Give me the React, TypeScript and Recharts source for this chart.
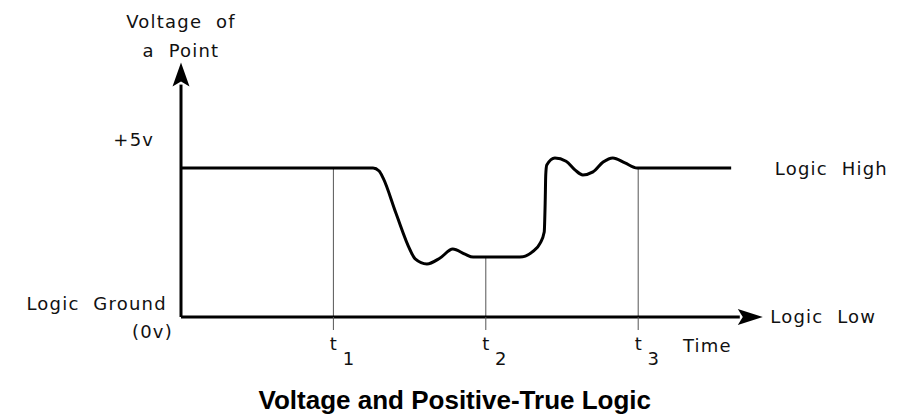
import { LineChart, Line, XAxis, YAxis, ReferenceLine, ReferenceDot } from "recharts";

// waveform: time units (t1 = 3, t2 = 6, t3 = 9), volts
const TIME = [
  0, 3.78, 3.9, 3.98, 4.23, 4.51, 4.61, 4.84, 5.1, 5.35, 5.59, 5.75,
  6.67, 6.91, 7.07, 7.15, 7.17, 7.18, 7.2, 7.36, 7.58, 7.76, 7.91, 8.11,
  8.31, 8.5, 8.74, 8.98, 10.83,
];
const VOLTS = [
  5, 5, 4.9, 4.66, 3.49, 2.25, 1.95, 1.78, 1.98, 2.28, 2.11, 2.01,
  2.01, 2.18, 2.48, 2.85, 3.93, 4.77, 5.1, 5.34, 5.23, 4.93, 4.77, 4.87,
  5.2, 5.34, 5.17, 5.0, 5,
];
const TICKS = [3, 6, 9];
const TICK_SUBS = ["1", "2", "3"];
const MARKER_TOPS = [5, 2.01, 5];

const data = TIME.map((t, i) => ({ t, v: VOLTS[i] }));

const PLOT_FONT = "'DejaVu Sans', sans-serif";

const NOTES = [
  { text: "Voltage  of", t: 0, v: 9.7, anchor: "middle" },
  { text: "a  Point", t: 0, v: 8.72, anchor: "middle" },
  { text: "+5v", t: -0.93, v: 5.74, anchor: "middle" },
  { text: "Logic  Ground", t: -0.28, v: 0.23, anchor: "end" },
  { text: "(0v)", t: -0.16, v: -0.7, anchor: "end" },
  { text: "Time", t: 9.88, v: -1.17, anchor: "start" },
  { text: "Logic  Low", t: 11.6, v: -0.2, anchor: "start" },
  { text: "Logic  High", t: 11.69, v: 4.77, anchor: "start" },
];

function TimeTick({ x, y, index }: any) {
  return (
    <g fontFamily={PLOT_FONT} fontSize={18} fill="#111">
      <text x={x} y={y + 20} textAnchor="middle">t</text>
      <text x={x + 15} y={y + 35} textAnchor="middle">{TICK_SUBS[index]}</text>
    </g>
  );
}

export default function App() {
  return (
    <div style={{ position: "absolute", left: 0, top: 0, background: "#fff" }}>
      <LineChart
        width={902}
        height={415}
        data={data}
        margin={{ top: 84.6, right: 162.2, bottom: 58, left: 141 }}
      >
        <defs>
          <marker id="arrowX" markerUnits="userSpaceOnUse" markerWidth={25} markerHeight={16}
            refX={2} refY={8} orient="auto" overflow="visible">
            <path d="M0,0 L25,8 L0,16 L5,8 Z" fill="#000" />
          </marker>
          <marker id="arrowY" markerUnits="userSpaceOnUse" markerWidth={24} markerHeight={17}
            refX={2} refY={8.5} orient="auto-start-reverse" overflow="visible">
            <path d="M0,0 L24,8.5 L0,17 L5,8.5 Z" fill="#000" />
          </marker>
        </defs>
        <XAxis
          type="number"
          dataKey="t"
          domain={[0, 11]}
          ticks={TICKS}
          height={40}
          tickSize={13}
          tickMargin={0}
          tickLine={{ stroke: "#555", strokeWidth: 1 }}
          axisLine={{ stroke: "#000", strokeWidth: 3, markerEnd: "url(#arrowX)" }}
          tick={<TimeTick />}
          interval={0}
        />
        <YAxis
          type="number"
          domain={[0, 7.8]}
          width={40}
          tick={false}
          tickLine={false}
          axisLine={{ stroke: "#000", strokeWidth: 3, markerStart: "url(#arrowY)" }}
        />
        {TICKS.map((x, i) => (
          <ReferenceLine
            key={x}
            segment={[{ x, y: 0 }, { x, y: MARKER_TOPS[i] }]}
            stroke="#555"
            strokeWidth={1}
          />
        ))}
        <Line
          type="monotone"
          dataKey="v"
          stroke="#000"
          strokeWidth={3}
          dot={false}
          isAnimationActive={false}
        />
        {NOTES.map((n) => (
          <ReferenceDot
            key={n.text}
            x={n.t}
            y={n.v}
            r={0}
            ifOverflow="visible"
            shape={(p: any) => (
              <text
                x={p.cx}
                y={p.cy}
                textAnchor={n.anchor as any}
                fontFamily={PLOT_FONT}
                fontSize={18}
                letterSpacing={1.2}
                fill="#111"
                style={{ whiteSpace: "pre" }}
              >
                {n.text}
              </text>
            )}
          />
        ))}
        <ReferenceDot
          x={5.39}
          y={-3.09}
          r={0}
          ifOverflow="visible"
          shape={(p: any) => (
            <text
              x={p.cx}
              y={p.cy}
              textAnchor="middle"
              fontFamily="'Liberation Sans', Arial, sans-serif"
              fontWeight={700}
              fontSize={26}
              fill="#000"
            >
              Voltage and Positive-True Logic
            </text>
          )}
        />
      </LineChart>
    </div>
  );
}
